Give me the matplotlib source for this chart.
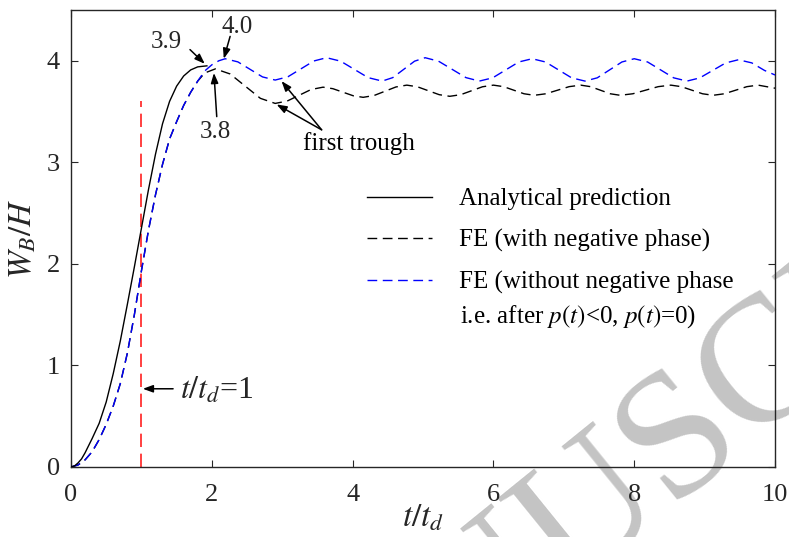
import matplotlib
matplotlib.use("Agg")
import matplotlib.pyplot as plt

plt.rcParams['font.family'] = ['Liberation Serif', 'DejaVu Serif']
plt.rcParams['mathtext.fontset'] = 'stix'

# Analytical prediction
t_an = [0, 0.05, 0.1, 0.15, 0.2, 0.3, 0.4, 0.5, 0.6, 0.7, 0.8, 0.9, 1.0, 1.1, 1.2, 1.3, 1.4, 1.5, 1.6, 1.7, 1.8, 1.93]
w_an = [0, 0.01, 0.04, 0.08, 0.14, 0.28, 0.43, 0.64, 0.92, 1.24, 1.6, 1.97, 2.35, 2.73, 3.08, 3.38, 3.6, 3.75, 3.85, 3.91, 3.94, 3.95]

# FE without negative phase (blue)
t_nn = [0, 0.1, 0.2, 0.3, 0.4, 0.5, 0.6, 0.7, 0.8, 0.9, 1.0, 1.1, 1.2, 1.3, 1.4, 1.5, 1.6, 1.7, 1.8, 1.9, 2.0, 2.1, 2.19,
        2.37, 2.545, 2.72, 2.90, 3.08, 3.265, 3.45, 3.63, 3.83, 4.025, 4.22, 4.42, 4.57, 4.725, 4.88, 5.03,
        5.22, 5.415, 5.61, 5.80, 5.99, 6.175, 6.36, 6.55, 6.74, 6.925, 7.11, 7.30, 7.475, 7.65, 7.825, 8.00,
        8.19, 8.375, 8.56, 8.75, 8.93, 9.115, 9.30, 9.48, 9.67, 9.85, 10.0]
w_nn = [0, 0.02, 0.07, 0.15, 0.27, 0.42, 0.6, 0.82, 1.12, 1.5, 1.93, 2.33, 2.68, 2.98, 3.23, 3.40, 3.56, 3.69, 3.80, 3.90, 3.96, 4.0, 4.02,
        3.989, 3.915, 3.841, 3.81, 3.842, 3.92, 3.998, 4.03, 3.996, 3.915, 3.834, 3.80, 3.834, 3.915, 3.996, 4.03,
        3.996, 3.915, 3.834, 3.80, 3.832, 3.91, 3.988, 4.02, 3.988, 3.91, 3.832, 3.80, 3.832, 3.91, 3.988, 4.02,
        3.988, 3.91, 3.832, 3.80, 3.831, 3.905, 3.979, 4.01, 3.979, 3.905, 3.86]

# FE with negative phase (black dashed)
t_wn = [0, 0.1, 0.2, 0.3, 0.4, 0.5, 0.6, 0.7, 0.8, 0.9, 1.0, 1.1, 1.2, 1.3, 1.4, 1.5, 1.6, 1.7, 1.8, 1.9, 2.05,
        2.26, 2.475, 2.69, 2.90, 3.07, 3.24, 3.41, 3.58, 3.72, 3.865, 4.01, 4.15, 4.305, 4.46, 4.615, 4.77,
        4.92, 5.075, 5.23, 5.38, 5.535, 5.69, 5.845, 6.0, 6.145, 6.29, 6.435, 6.58, 6.745, 6.91, 7.075, 7.24,
        7.38, 7.52, 7.66, 7.80, 7.98, 8.16, 8.34, 8.52, 8.67, 8.82, 8.97, 9.12, 9.28, 9.44, 9.60, 9.76, 10.0]
w_wn = [0, 0.02, 0.07, 0.15, 0.27, 0.42, 0.6, 0.82, 1.12, 1.5, 1.93, 2.33, 2.68, 2.98, 3.23, 3.40, 3.56, 3.69, 3.80, 3.88, 3.92,
        3.870, 3.75, 3.630, 3.58, 3.603, 3.66, 3.717, 3.74, 3.725, 3.69, 3.655, 3.64, 3.658, 3.70, 3.742, 3.76,
        3.744, 3.705, 3.666, 3.65, 3.666, 3.705, 3.744, 3.76, 3.745, 3.71, 3.675, 3.66, 3.675, 3.71, 3.745, 3.76,
        3.745, 3.71, 3.675, 3.66, 3.675, 3.71, 3.745, 3.76, 3.745, 3.71, 3.675, 3.66, 3.675, 3.71, 3.745, 3.76, 3.73]

td_line_x = 1.0
td_line_top = 3.6

x_ticks = [0, 2, 4, 6, 8, 10]
y_ticks = [0, 1, 2, 3, 4]

labels = ["Analytical prediction", "FE (with negative phase)", "FE (without negative phase"]
label_extra = "i.e. after $p(t)$<0, $p(t)$=0)"

fig = plt.figure(figsize=(7.89, 5.37), dpi=100)
ax = fig.add_axes([0.09, 0.1304, 0.8923, 0.851])

dk = '#262626'
ax.plot(t_wn, w_wn, color='black', lw=1.0, dashes=(7, 4), label=labels[1], zorder=3)
ax.plot(t_nn, w_nn, color='blue', lw=1.0, dashes=(7, 4), label=labels[2], zorder=4)
ax.plot(t_an, w_an, color='black', lw=1.0, label=labels[0], zorder=5)
ax.plot([td_line_x, td_line_x], [0, td_line_top], color='#ff2020', lw=1.2, dashes=(8, 4), zorder=2)

ax.set_xlim(0, 10)
ax.set_ylim(0, 4.5)
ax.set_xticks(x_ticks)
ax.set_yticks(y_ticks)
ax.tick_params(direction='in', length=5, width=0.8, top=True, right=True, labelsize=19,
               colors=dk, pad=8)
ax.tick_params(axis='x', pad=12)
for s in ax.spines.values():
    s.set_color(dk)
    s.set_linewidth(1.0)

ax.set_xlabel('$t/t_d$', fontsize=24, labelpad=-2, color=dk)
ax.set_ylabel('$W_B/H$', fontsize=24, labelpad=6, color=dk)

h = ax.get_legend_handles_labels()
hd = dict(zip(h[1], h[0]))
leg = ax.legend([hd[l] for l in labels], labels, loc='upper left', bbox_to_anchor=(0.42, 0.611),
                frameon=False, fontsize=18, handlelength=2.6, handletextpad=1.1, labelspacing=0.75,
                borderpad=0, borderaxespad=0)
ax.text(0.5526, 0.330, label_extra, transform=ax.transAxes, fontsize=18, va='center', ha='left')

arrow = dict(arrowstyle='-|>,head_length=0.6,head_width=0.22', color='black', lw=1.1,
             shrinkA=0, shrinkB=0)
ax.text(1.36, 4.18, '3.9', fontsize=18, ha='center', va='center', color=dk)
ax.annotate('', xy=(1.90, 3.97), xytext=(1.69, 4.11), arrowprops=arrow)
ax.text(2.36, 4.33, '4.0', fontsize=18, ha='center', va='center', color=dk)
ax.annotate('', xy=(2.17, 4.02), xytext=(2.26, 4.24), arrowprops=arrow)
ax.text(2.05, 3.30, '3.8', fontsize=18, ha='center', va='center', color=dk)
ax.annotate('', xy=(2.03, 3.88), xytext=(2.07, 3.45), arrowprops=arrow)
ax.text(3.30, 3.19, 'first trough', fontsize=18, ha='left', va='center', color='black')
ax.annotate('', xy=(2.99, 3.80), xytext=(3.56, 3.32), arrowprops=arrow)
ax.annotate('', xy=(2.92, 3.57), xytext=(3.56, 3.32), arrowprops=arrow)
ax.annotate('', xy=(1.02, 0.77), xytext=(1.45, 0.77), arrowprops=arrow)
ax.text(1.55, 0.75, '$t/t_d$=1', fontsize=23, ha='left', va='center', color=dk)

# watermark
ax.text(0.844, 0.1564, 'MANUSCRIPT', transform=fig.transFigure, fontsize=130, rotation=39,
        rotation_mode='anchor', ha='center', va='center', color='#c4c4c4', zorder=1, clip_on=False)

fig.savefig('out.png', dpi=100)
